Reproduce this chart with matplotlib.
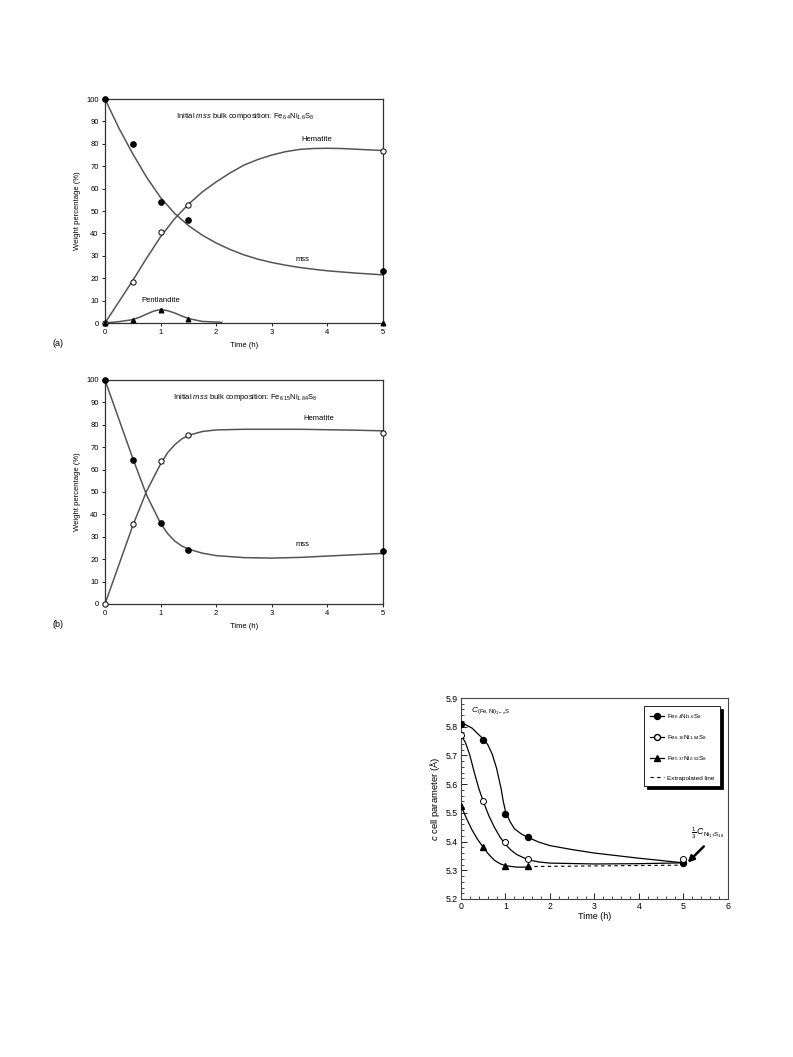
import matplotlib
matplotlib.use("Agg")
import matplotlib.pyplot as plt
from matplotlib.lines import Line2D

plt.rcParams['font.family'] = ['Liberation Sans', 'DejaVu Sans']
plt.rcParams['mathtext.fontset'] = 'custom'
plt.rcParams['mathtext.rm'] = 'Liberation Sans'
plt.rcParams['mathtext.it'] = 'Liberation Sans:italic'

# ---- panel (a) data: Fe6.4Ni1.6S8 ----
t_pts = [0, 0.5, 1, 1.5, 5]
a_mss = [100, 80, 54, 46, 23]
a_hem = [0, 18.5, 40.5, 52.5, 77]
a_pent = [0, 1.5, 6, 2, 0]

# fitted curves
a_t_curve = [0, 0.25, 0.5, 0.75, 1, 1.25, 1.5, 1.75, 2, 2.25, 2.5, 2.75, 3, 3.25, 3.5,
             3.75, 4, 4.25, 4.5, 4.75, 5]
a_mss_curve = [100, 87, 75.5, 65, 56, 49, 43.5, 39.2, 35.7, 32.8, 30.4, 28.5, 27, 25.8,
               24.8, 24, 23.3, 22.8, 22.3, 21.9, 21.5]
a_hem_curve = [0, 9.5, 19, 29, 38.5, 46.5, 53, 58.5, 63, 67, 70.5, 73, 75, 76.5, 77.5,
               77.9, 78, 77.9, 77.6, 77.3, 77]
pent_t_curve = [0, 0.25, 0.5, 0.625, 0.75, 0.875, 1, 1.125, 1.25, 1.375, 1.5, 1.75, 2.1]
pent_curve = [0, 0.6, 1.5, 2.6, 4, 5.3, 6, 5.5, 4.5, 3.2, 2, 0.7, 0.3]

# ---- panel (b) data: Fe6.15Ni1.84S8 ----
b_mss = [100, 64.5, 36, 24, 23.5]
b_hem = [0, 35.5, 64, 75.5, 76.5]
b_t_curve = [0, 0.25, 0.5, 0.75, 1, 1.125, 1.25, 1.375, 1.5, 1.75, 2, 2.5, 3, 3.5, 4, 4.5, 5]
b_mss_curve = [100, 82.5, 65, 48.5, 36, 31.5, 28.2, 26, 24.5, 22.7, 21.6, 20.7, 20.5, 20.8,
               21.4, 22, 22.6]
b_hem_curve = [0, 17.5, 35, 50.5, 62.5, 67.5, 71, 73.6, 75.3, 77, 77.7, 78, 78, 78, 77.8,
               77.6, 77.3]

# ---- panel (c) data: c cell parameter ----
c_s1 = [5.81, 5.755, 5.495, 5.415, 5.325]
c_s2 = [5.77, 5.54, 5.40, 5.34, 5.34]
t_s3 = [0, 0.5, 1, 1.5]
c_s3 = [5.525, 5.38, 5.315, 5.315]
s1_t_curve = [0, 0.25, 0.5, 0.6, 0.7, 0.8, 0.9, 0.95, 1, 1.1, 1.2, 1.35, 1.5, 1.75, 2,
              2.5, 3, 4, 5]
s1_curve = [5.815, 5.795, 5.757, 5.738, 5.705, 5.655, 5.585, 5.54, 5.505, 5.47, 5.445,
            5.427, 5.415, 5.398, 5.386, 5.372, 5.36, 5.342, 5.326]
s2_t_curve = [0, 0.1, 0.2, 0.3, 0.4, 0.5, 0.625, 0.75, 0.875, 1, 1.125, 1.25, 1.5, 1.75,
              2, 3, 4, 5]
s2_curve = [5.77, 5.745, 5.70, 5.64, 5.585, 5.54, 5.49, 5.45, 5.416, 5.39, 5.37, 5.355,
            5.337, 5.329, 5.325, 5.322, 5.323, 5.326]
s3_t_curve = [0, 0.125, 0.25, 0.375, 0.5, 0.625, 0.75, 0.875, 1, 1.25, 1.5]
s3_curve = [5.525, 5.48, 5.44, 5.407, 5.38, 5.355, 5.335, 5.323, 5.316, 5.311, 5.311]
ext_t = [1.5, 5]
ext_c = [5.313, 5.318]

W, H = 793, 1057
fig = plt.figure(figsize=(W / 100, H / 100), dpi=100)

def px_axes(left, top, right, bottom):
    return fig.add_axes([left / W, 1 - bottom / H, (right - left) / W, (bottom - top) / H])

line_c = '#555555'
fs = 5.5

def weight_panel(ax, t_c, mss_c, hem_c, mss, hem, comp, label):
    ax.plot(t_c, mss_c, color=line_c, lw=1.1, zorder=2)
    ax.plot(t_c, hem_c, color=line_c, lw=1.1, zorder=2)
    ax.plot(t_pts, mss, 'o', color='black', ms=3.8, zorder=4, clip_on=False)
    ax.plot(t_pts, hem, 'o', mfc='white', mec='black', mew=0.7, ms=3.8, zorder=4, clip_on=False)
    ax.set_xlim(0, 5)
    ax.set_ylim(0, 100)
    ax.set_xticks(range(6))
    ax.set_yticks(range(0, 101, 10))
    ax.tick_params(direction='out', length=2.5, width=0.6, labelsize=fs, pad=2)
    for s in ax.spines.values():
        s.set_linewidth(0.9)
        s.set_color('#333333')
    ax.set_xlabel('Time (h)', fontsize=fs, labelpad=4)
    ax.set_ylabel('Weight percentage (%)', fontsize=fs, labelpad=4)
    ax.text(2.53, 92, 'Initial $\\it{mss}$ bulk composition: ' + comp, fontsize=fs,
            ha='center', va='center')
    ax.text(-0.17, -0.09, label, transform=ax.transAxes, fontsize=6.5, ha='center', va='center')

ax_a = px_axes(105, 99, 383, 323)
weight_panel(ax_a, a_t_curve, a_mss_curve, a_hem_curve, a_mss, a_hem,
             'Fe$_{6.4}$Ni$_{1.6}$S$_8$', '(a)')
ax_a.plot(pent_t_curve, pent_curve, color=line_c, lw=1.1, zorder=2)
ax_a.plot(t_pts, a_pent, '^', color='black', ms=3.3, zorder=4, clip_on=False)
ax_a.text(3.8, 82, 'Hematite', fontsize=fs, ha='center', va='center')
ax_a.text(3.55, 28.5, 'mss', fontsize=fs, ha='center', va='center')
ax_a.text(1.0, 10, 'Pentlandite', fontsize=fs, ha='center', va='center')

ax_b = px_axes(105, 380, 383, 604)
weight_panel(ax_b, b_t_curve, b_mss_curve, b_hem_curve, b_mss, b_hem,
             'Fe$_{6.15}$Ni$_{1.84}$S$_8$', '(b)')
ax_b.text(3.85, 83, 'Hematite', fontsize=fs, ha='center', va='center')
ax_b.text(3.55, 26.5, 'mss', fontsize=fs, ha='center', va='center')

# ---- panel (c) ----
ax_c = px_axes(461, 698, 728, 899)
ax_c.plot(s1_t_curve, s1_curve, color='black', lw=0.9)
ax_c.plot(s2_t_curve, s2_curve, color='black', lw=0.9)
ax_c.plot(s3_t_curve, s3_curve, color='black', lw=0.9)
ax_c.plot(ext_t, ext_c, color='black', lw=0.8, ls=(0, (3, 3)))
ax_c.plot(t_pts, c_s1, 'o', color='black', ms=4.3, zorder=4)
ax_c.plot(t_pts, c_s2, 'o', mfc='white', mec='black', mew=0.7, ms=4.3, zorder=4)
ax_c.plot(t_s3, c_s3, '^', color='black', ms=4.3, zorder=4)
ax_c.set_xlim(0, 6)
ax_c.set_ylim(5.2, 5.9)
ax_c.set_xticks(range(7))
ax_c.set_yticks([5.2, 5.3, 5.4, 5.5, 5.6, 5.7, 5.8, 5.9])
ax_c.set_yticklabels(['5.2', '5.3', '5.4', '5.5', '5.6', '5.7', '5.8', '5.9'])
ax_c.set_xticks([i * 0.2 for i in range(31)], minor=True)
ax_c.set_yticks([5.2 + i * 0.02 for i in range(36)], minor=True)
ax_c.tick_params(which='major', direction='in', length=4, width=0.6, labelsize=6.3, pad=2)
ax_c.tick_params(which='minor', direction='in', length=2, width=0.5)
for s in ax_c.spines.values():
    s.set_linewidth(0.8)
    s.set_color('#444444')
ax_c.set_xlabel('Time (h)', fontsize=6.5, labelpad=1)
ax_c.set_ylabel('$\\it{c}$ cell parameter (Å)', fontsize=6.8, labelpad=3)
ax_c.text(0.22, 5.855, '$\\it{C}_{\\rm (Fe,Ni)_{1-x}S}$', fontsize=6, ha='left', va='center')
ax_c.annotate('', xy=(5.05, 5.32), xytext=(5.5, 5.39),
              arrowprops=dict(arrowstyle='-|>', lw=1.8, color='black', mutation_scale=9))
ax_c.text(5.55, 5.43, '$\\frac{1}{3}\\,\\it{C}_{\\rm Ni_{17}S_{18}}$', fontsize=6.3,
          ha='center', va='center')

handles = [
    Line2D([], [], color='black', marker='o', ms=4.3, lw=0.9),
    Line2D([], [], color='black', marker='o', mfc='white', ms=4.3, lw=0.9),
    Line2D([], [], color='black', marker='^', ms=4.3, lw=0.9),
    Line2D([], [], color='black', lw=0.8, ls=(0, (3, 3))),
]
labels = ['Fe$_{6.4}$Ni$_{1.6}$S$_8$', 'Fe$_{6.16}$Ni$_{1.84}$S$_8$',
          'Fe$_{5.37}$Ni$_{2.63}$S$_8$', 'Extrapolated line']
leg = ax_c.legend(handles, labels, loc='upper left', bbox_to_anchor=(0.674, 0.975),
                  fontsize=4.6, frameon=True, fancybox=False,
                  shadow={'color': 'black', 'alpha': 1.0},
                  handlelength=2.2, labelspacing=1.9, borderpad=0.9, handletextpad=0.5)
leg.get_frame().set_edgecolor('black')
leg.get_frame().set_linewidth(0.6)

fig.savefig('out.png', dpi=100)
